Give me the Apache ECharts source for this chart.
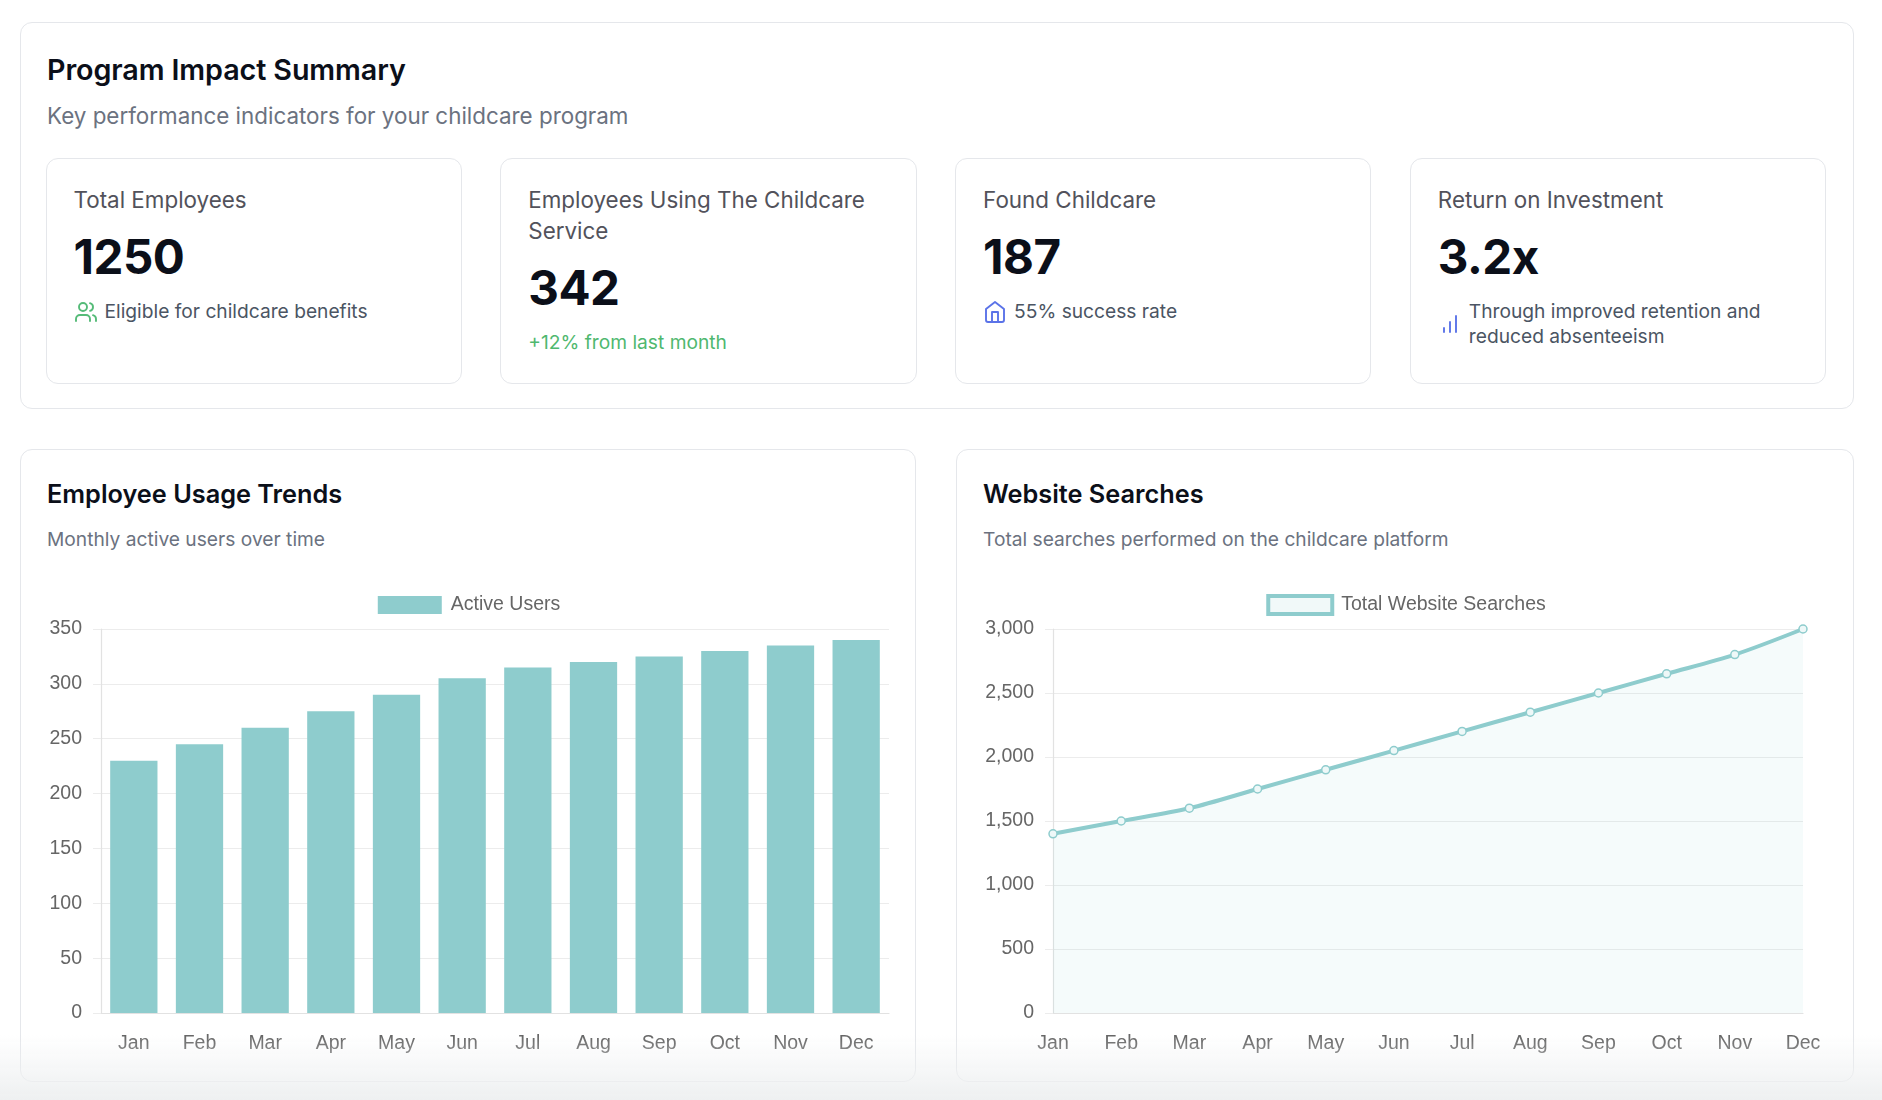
<!DOCTYPE html>
<html>
<head>
<meta charset="utf-8">
<script src="https://cdn.jsdelivr.net/npm/echarts@6/dist/echarts.min.js"></script>
<style>
  html, body { margin:0; padding:0; background:#ffffff; width:1882px; height:1100px; overflow:hidden; font-family:Inter, "Noto Sans", sans-serif; }
  .card { position:absolute; background:#fff; border:1.2px solid #e5e7eb; border-radius:12px; box-sizing:border-box; }
  #summary { left:20px; top:22px; width:1834px; height:387px; padding:27px 26px; }
  .h1 { font-size:28.7px; font-weight:600; color:#0b0f19; line-height:40px; margin:0; letter-spacing:-0.1px; }
  .sub { font-size:22.4px; color:#6b7280; line-height:28px; margin-top:12px; }
  .kpis { position:absolute; left:24.5px; top:135px; width:1781px; display:flex; gap:38.4px; }
  .kpi { width:416.4px; flex:none; height:226px; border:1.2px solid #e5e7eb; border-radius:12px; box-sizing:border-box; padding:25px 27px; }
  .klabel { font-size:22.4px; color:#52525b; line-height:31.2px; }
  .kval { font-size:47.5px; font-weight:700; color:#0b0f19; line-height:48px; margin-top:18px; letter-spacing:-0.5px; }
  .ksub { font-size:19.2px; color:#4b5563; line-height:25px; margin-top:18px; display:flex; align-items:center; }
  .ksub svg { flex:none; margin-right:7px; }
  .green { color:#4fb86f; }
  .chartcard { top:449px; height:633px; padding:27px 26px; }
  .h2 { font-size:25.3px; font-weight:600; color:#0b0f19; line-height:30px; margin-top:2px; }
  .sub2 { font-size:19.2px; color:#6b7280; line-height:28px; margin-top:16px; }
  .chart { position:absolute; left:0; top:121px; }
  #fade { position:absolute; left:0; top:1035px; width:1882px; height:65px; background:linear-gradient(to bottom, rgba(238,240,241,0), rgba(238,240,241,1)); pointer-events:none; z-index:10; }
</style>
</head>
<body>
<div class="card" id="summary">
  <div class="h1">Program Impact Summary</div>
  <div class="sub">Key performance indicators for your childcare program</div>
  <div class="kpis">
    <div class="kpi">
      <div class="klabel">Total Employees</div>
      <div class="kval">1250</div>
      <div class="ksub">
        <svg width="24" height="24" viewBox="0 0 24 24" fill="none" stroke="#55bb78" stroke-width="1.9" stroke-linecap="round" stroke-linejoin="round"><path d="M16 21v-2a4 4 0 0 0-4-4H6a4 4 0 0 0-4 4v2"/><circle cx="9" cy="7" r="4"/><path d="M22 21v-2a4 4 0 0 0-3-3.870"/><path d="M16 3.13a4 4 0 0 1 0 7.75"/></svg>
        <span>Eligible for childcare benefits</span>
      </div>
    </div>
    <div class="kpi">
      <div class="klabel">Employees Using The Childcare Service</div>
      <div class="kval">342</div>
      <div class="ksub green">+12% from last month</div>
    </div>
    <div class="kpi">
      <div class="klabel">Found Childcare</div>
      <div class="kval">187</div>
      <div class="ksub">
        <svg width="24" height="24" viewBox="0 0 24 24" fill="none" stroke="#5b73e8" stroke-width="1.9" stroke-linecap="round" stroke-linejoin="round"><path d="m3 9 9-7 9 7v11a2 2 0 0 1-2 2H5a2 2 0 0 1-2-2z"/><polyline points="9 22 9 12 15 12 15 22"/></svg>
        <span>55% success rate</span>
      </div>
    </div>
    <div class="kpi">
      <div class="klabel">Return on Investment</div>
      <div class="kval">3.2x</div>
      <div class="ksub">
        <svg width="24" height="24" viewBox="0 0 24 24" fill="none" stroke="#5b73e8" stroke-width="1.9" stroke-linecap="round" stroke-linejoin="round"><line x1="12" x2="12" y1="20" y2="10"/><line x1="18" x2="18" y1="20" y2="4"/><line x1="6" x2="6" y1="20" y2="16"/></svg>
        <span>Through improved retention and<br>reduced absenteeism</span>
      </div>
    </div>
  </div>
</div>

<div class="card chartcard" style="left:20px; width:896px;">
  <div class="h2">Employee Usage Trends</div>
  <div class="sub2">Monthly active users over time</div>
  <div class="chart" id="c1" style="width:896px; height:500px;"></div>
</div>
<div class="card chartcard" style="left:956px; width:898px;">
  <div class="h2">Website Searches</div>
  <div class="sub2">Total searches performed on the childcare platform</div>
  <div class="chart" id="c2" style="width:898px; height:500px;"></div>
</div>
<div id="fade"></div>

<script>
const months = ["Jan","Feb","Mar","Apr","May","Jun","Jul","Aug","Sep","Oct","Nov","Dec"];
const activeUsers = [230,245,260,275,290,305,315,320,325,330,335,340];
const websiteSearches = [1400,1500,1600,1750,1900,2050,2200,2350,2500,2650,2800,3000];
const usersTicks = {min:0, max:350, interval:50};
const searchTicks = {min:0, max:3000, interval:500};

const teal = '#8ecccd';
const fontFam = '"Liberation Sans", Arial, Helvetica, sans-serif';
const gridColor = '#ececec';
const labelColor = '#666666';
const fs = 19.5;

const c1 = echarts.init(document.getElementById('c1'));
c1.setOption({
  animation:false,
  textStyle:{fontFamily:fontFam},
  legend:{
    top:19, left:'center', itemWidth:64, itemHeight:18, itemGap:10,
    textStyle:{fontSize:fs, color:labelColor, fontFamily:fontFam, padding:[0,0,0,4]},
    data:[{name:'Active Users', icon:'rect'}]
  },
  grid:{left:80, right:28, top:58, bottom:58},
  xAxis:{
    type:'category', data:months, boundaryGap:true,
    axisLine:{show:true, lineStyle:{color:'#e2e2e2', width:1.2}},
    axisTick:{show:false},
    axisLabel:{fontSize:fs, color:labelColor, margin:21, fontFamily:fontFam},
    splitLine:{show:false}
  },
  yAxis:{
    type:'value', min:usersTicks.min, max:usersTicks.max, interval:usersTicks.interval,
    axisLine:{show:true, lineStyle:{color:'#e2e2e2', width:1.2}},
    axisTick:{show:true, length:8, lineStyle:{color:gridColor}},
    axisLabel:{fontSize:fs, color:labelColor, margin:19, fontFamily:fontFam},
    splitLine:{show:true, lineStyle:{color:gridColor, width:1.2}}
  },
  series:[{
    name:'Active Users', type:'bar', data:activeUsers,
    barCategoryGap:'28%',
    itemStyle:{color:teal}
  }]
});

const c2 = echarts.init(document.getElementById('c2'));
c2.setOption({
  animation:false,
  textStyle:{fontFamily:fontFam},
  legend:{
    top:18, left:'center', itemWidth:64, itemHeight:18, itemGap:10,
    textStyle:{fontSize:fs, color:labelColor, fontFamily:fontFam, padding:[0,0,0,4]},
    data:[{name:'Total Website Searches', icon:'rect', itemStyle:{color:'#f1f9f9', borderColor:teal, borderWidth:4}}]
  },
  grid:{left:96, right:52, top:58, bottom:58},
  xAxis:{
    type:'category', data:months, boundaryGap:false,
    axisLine:{show:true, lineStyle:{color:'#e2e2e2', width:1.2}},
    axisTick:{show:false},
    axisLabel:{fontSize:fs, color:labelColor, margin:21, fontFamily:fontFam},
    splitLine:{show:false}
  },
  yAxis:{
    type:'value', min:searchTicks.min, max:searchTicks.max, interval:searchTicks.interval,
    axisLine:{show:true, lineStyle:{color:'#e2e2e2', width:1.2}},
    axisTick:{show:true, length:8, lineStyle:{color:gridColor}},
    axisLabel:{fontSize:fs, color:labelColor, margin:19, fontFamily:fontFam,
      formatter:v => v.toLocaleString('en-US')},
    splitLine:{show:true, lineStyle:{color:gridColor, width:1.2}}
  },
  series:[{
    name:'Total Website Searches', type:'line', data:websiteSearches,
    smooth:0.3, symbol:'circle', symbolSize:8, showSymbol:true,
    lineStyle:{color:teal, width:4},
    itemStyle:{color:'#eef8f8', borderColor:teal, borderWidth:1.5},
    areaStyle:{color:'rgba(142,204,205,0.12)'}
  }]
});
</script>
</body>
</html>
